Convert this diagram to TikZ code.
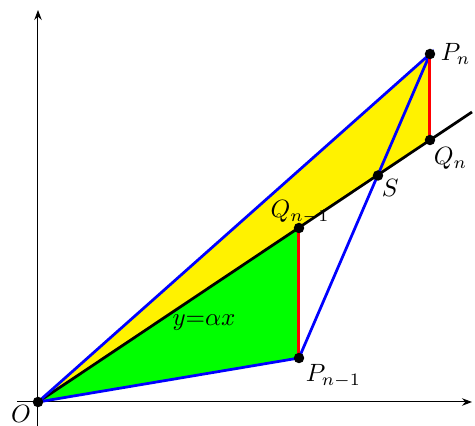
\documentclass[tikz,border=0pt]{standalone}
\usetikzlibrary{arrows.meta}
\begin{document}
\begin{tikzpicture}[x=0.4pt,y=-0.4pt,
  axis/.style={line width=0.4pt,-{Stealth[length=4pt,width=3pt]}},
  bl/.style={blue,line width=1.1pt},
  rd/.style={red,line width=1.2pt},
  blk/.style={black,line width=1.1pt},
  dot/.style={circle,fill=black,inner sep=0pt,minimum size=4.2pt}]
\useasboundingbox (0,0) rectangle (475,426);
\coordinate (O) at (38,402);
\coordinate (Pn) at (430,54);
\coordinate (Qn) at (430,140);
\coordinate (S) at (378,175.5);
\coordinate (Qm) at (299,228);
\coordinate (Pm) at (299,358);
\coordinate (E) at (472,112);
\coordinate (xs) at (17,402);
\coordinate (xe) at (472,402);
\coordinate (ys) at (38,426);
\coordinate (ye) at (38,10);
\fill[yellow] (O) -- (Pn) -- (Qn) -- cycle;
\fill[green] (O) -- (Qm) -- (Pm) -- cycle;
\draw[axis] (xs) -- (xe);
\draw[axis] (ys) -- (ye);
\draw[blk] (O) -- (E);
\draw[bl] (O) -- (Pn) -- (Pm) -- cycle;
\draw[rd] (Pn) -- (Qn);
\draw[rd] (Qm) -- (Pm);
\foreach \p in {O,Pn,Qn,S,Qm,Pm} \node[dot] at (\p) {};
\node[anchor=west] (lPn) at (432,54) {$P_n$};
\node[anchor=north west] (lQn) at (425,139) {$Q_n$};
\node[anchor=north west] (lS) at (373,171) {$S$};
\node (lQm) at (300,212) {$Q_{n-1}$};
\node[anchor=north west] (lPm) at (297,356) {$P_{n-1}$};
\node (lO) at (21,414) {$O$};
\node (lab) at (204,323) {$y{=}\alpha x$};
\end{tikzpicture}
\end{document}
